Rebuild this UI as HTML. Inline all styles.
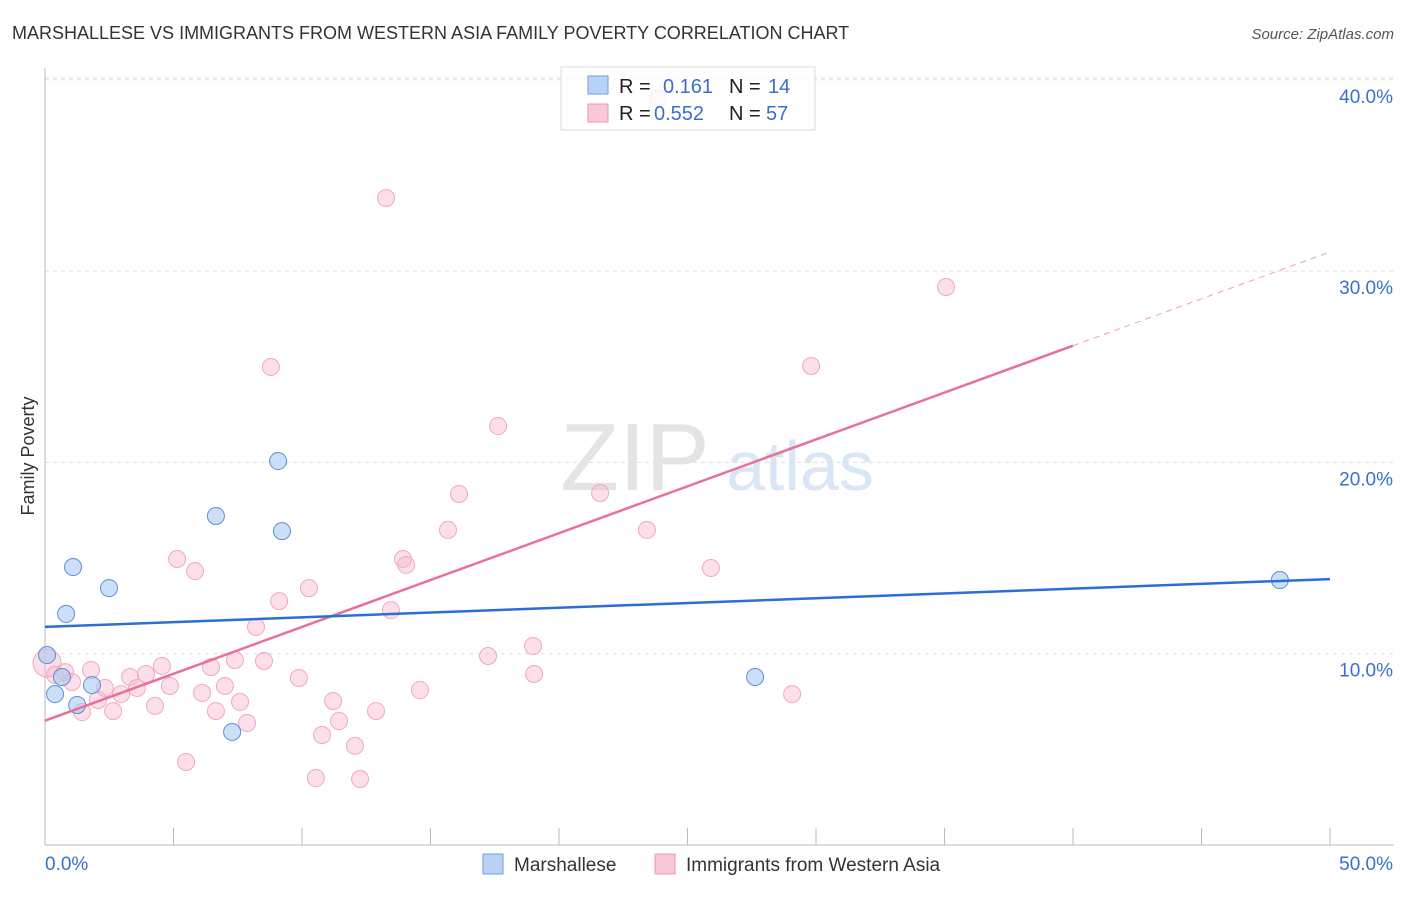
<!DOCTYPE html>
<html><head><meta charset="utf-8"><style>
body{margin:0;background:#fff;font-family:"Liberation Sans",sans-serif;}
svg text{font-family:"Liberation Sans",sans-serif;}
</style></head><body>
<svg id="c" width="1406" height="892" xmlns="http://www.w3.org/2000/svg">
<text x="12" y="39" font-size="18" fill="#333">MARSHALLESE VS IMMIGRANTS FROM WESTERN ASIA FAMILY POVERTY CORRELATION CHART</text>
<text x="1394" y="39" font-size="15" fill="#555" font-style="italic" text-anchor="end">Source: ZipAtlas.com</text>
<text x="34" y="456" font-size="18" fill="#333" text-anchor="middle" transform="rotate(-90 34 456)">Family Poverty</text>
<g><text x="635" y="490" font-size="96" fill="#e4e4e4" text-anchor="middle" font-family="Liberation Serif">ZIP</text><text x="800" y="490" font-size="70" fill="#d8e6f5" text-anchor="middle">atlas</text></g>
<g id="grid"></g><g id="axes"></g><g id="marks"></g>
<g>
<rect x="561" y="67" width="254" height="63" fill="#fff" fill-opacity="0.8" stroke="#ddd"/>
<rect x="588" y="76" width="20" height="18" fill="#b9d3f7" stroke="#6f9fdc"/>
<rect x="588" y="104" width="20" height="18" fill="#fbc8d7" stroke="#ee94b0"/>
<text x="619" y="93" font-size="20" fill="#222">R =</text><text x="663" y="93" font-size="20" fill="#3a6fcc">0.161</text>
<text x="729" y="93" font-size="20" fill="#222">N =</text><text x="768" y="93" font-size="20" fill="#3a6fcc">14</text>
<text x="619" y="120" font-size="20" fill="#222">R =</text><text x="654" y="120" font-size="20" fill="#3a6fcc">0.552</text>
<text x="729" y="120" font-size="20" fill="#222">N =</text><text x="766" y="120" font-size="20" fill="#3a6fcc">57</text>
</g>
<g>
<rect x="483" y="854" width="20" height="20" fill="#b9d3f7" stroke="#6f9fdc"/>
<text x="514" y="871" font-size="19" fill="#333">Marshallese</text>
<rect x="655" y="854" width="20" height="20" fill="#fbc8d7" stroke="#ee94b0"/>
<text x="686" y="871" font-size="19" fill="#333">Immigrants from Western Asia</text>
</g>
</svg>
<script>
const yTicks=[10,20,30,40];
const yTickLabels=["10.0%","20.0%","30.0%","40.0%"];
const xTickLabels=["0.0%","50.0%"];
const blueX=[0.08,0.39,0.82,1.09,0.66,1.83,1.25,2.49,6.65,9.07,9.22,7.28,27.63,48.05];
const blueY=[9.93,7.89,12.08,14.53,8.78,8.36,7.32,13.43,17.2,20.07,16.41,5.91,8.78,13.85];
const pinkX=[0.08,0.39,0.78,1.05,1.44,1.79,2.06,2.65,2.33,2.96,3.31,3.58,3.93,4.28,4.55,4.86,5.14,5.49,5.84,6.11,6.46,6.65,7.0,7.39,7.59,7.86,8.21,8.52,8.79,9.11,9.88,10.27,10.54,10.78,11.21,11.44,12.06,12.26,12.88,13.27,13.46,13.93,14.05,14.59,15.68,16.11,17.24,17.63,18.99,19.03,21.6,23.42,25.91,29.07,29.81,35.06,23.85];
const pinkY=[9.51,8.89,9.04,8.52,6.95,9.15,7.58,7.0,8.21,7.89,8.78,8.21,8.94,7.27,9.36,8.31,14.95,4.34,14.32,7.95,9.3,7.0,8.31,9.67,7.48,6.38,11.4,9.62,24.99,12.75,8.73,13.43,3.5,5.75,7.53,6.48,5.18,3.45,7.0,33.82,12.28,14.95,14.64,8.1,16.47,18.35,9.88,21.9,10.4,8.94,18.4,16.47,14.48,7.89,25.04,29.17,39.05];
const blueTrend=[11.4,13.9];
const pinkTrend=[6.5,31.0];
const X=v=>45+v*25.7, Y=v=>845-v*19.13;
const NS="http://www.w3.org/2000/svg";
function mk(t,a,p){const e=document.createElementNS(NS,t);for(const k in a)e.setAttribute(k,a[k]);document.getElementById(p).appendChild(e);return e;}
yTicks.forEach((t,i)=>{
 const l=mk('line',{x1:45,x2:1394,y1:Y(t),y2:Y(t),stroke:'#ddd','stroke-dasharray':'4,4'},'grid');
 
 
 const tx=mk('text',{x:1393,y:Y(t)+23,'font-size':19,fill:'#3a6fcc','text-anchor':'end'},'axes');tx.textContent=yTickLabels[i];
 
 
});
const topGrid=mk('line',{x1:45,x2:1394,y1:78,y2:78,stroke:'#ddd','stroke-dasharray':'4,4'},'grid');


const ya=mk('line',{x1:45,x2:45,y1:68,y2:845,stroke:'#bbb'},'axes');


const xa=mk('line',{x1:45,x2:1394,y1:845,y2:845,stroke:'#bbb'},'axes');


for(let v=0;v<=50;v+=5){const t=mk('line',{x1:X(v),x2:X(v),y1:828,y2:845,stroke:'#bbb'},'axes');
 
 }
xTickLabels.forEach((s,i)=>{const t=mk('text',{x:i?1393:45,y:870,'font-size':19,fill:'#3a6fcc','text-anchor':i?'end':'start'},'axes');t.textContent=s;
 
 });
pinkX.forEach((x,i)=>{const c=mk('circle',{cx:X(x),cy:Y(pinkY[i]),r:i==0?14:8.5,fill:'rgba(248,183,203,0.45)',stroke:'#f0a8bf','stroke-width':1},'marks');
 
 });
blueX.forEach((x,i)=>{const c=mk('circle',{cx:X(x),cy:Y(blueY[i]),r:8.5,fill:'rgba(170,201,244,0.6)',stroke:'#5b8fd8','stroke-width':1},'marks');
 
 });
const pm=v=>pinkTrend[0]+(pinkTrend[1]-pinkTrend[0])*v/50;
const pl=mk('line',{x1:X(0),y1:Y(pinkTrend[0]),x2:X(40),y2:Y(pm(40)),stroke:'#e8709a','stroke-width':2.5},'marks');


const pd=mk('line',{x1:X(40),y1:Y(pm(40)),x2:X(50),y2:Y(pinkTrend[1]),stroke:'#e8a0b8','stroke-width':1,'stroke-dasharray':'6,5'},'marks');


const bl=mk('line',{x1:X(0),y1:Y(blueTrend[0]),x2:X(50),y2:Y(blueTrend[1]),stroke:'#2a6fd6','stroke-width':2.5},'marks');


</script>
</body></html>
